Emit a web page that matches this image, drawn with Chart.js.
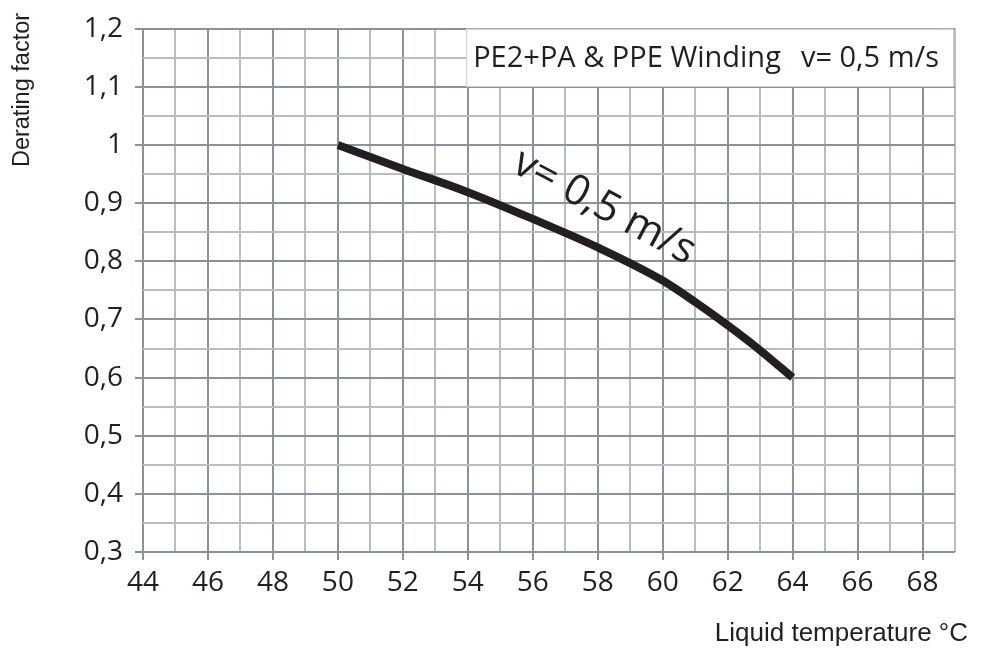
<!DOCTYPE html>
<html>
<head>
<meta charset="utf-8">
<script src="https://cdn.jsdelivr.net/npm/chart.js@4/dist/chart.umd.min.js"></script>
<style>
  html, body { margin: 0; padding: 0; background: #ffffff; }
  #wrap { position: relative; width: 981px; height: 652px; }
</style>
</head>
<body>
<div id="wrap"><canvas id="derating" width="981" height="652"></canvas></div>
<script>
// Derating curve, v = 0,5 m/s
const temperatures = [50, 52, 54, 56, 58, 60, 61, 62, 63, 64];
const deratingFactors = [1.0, 0.959, 0.919, 0.873, 0.824, 0.767, 0.73, 0.69, 0.647, 0.6];

const xMin = 44, xMax = 69;
const yMin = 0.3, yMax = 1.2;

const curveName = 'v= 0,5 m/s';
const boxTitle = 'PE2+PA & PPE Winding';
const xTitle = 'Liquid temperature °C';
const yTitle = 'Derating factor';

const DARK_GRID = '#8b9299';
const LIGHT_GRID = '#b9bdc3';
const INK = '#231f20';
const TICK_FONT = { family: '"Open Sans", sans-serif', size: 28 };

// y tick values come as floats, round to hundredths
function isMajorY(v) { return Math.round(v * 100) % 10 === 0; }
function isMajorX(v) { return Math.round(v) % 2 === 0; }
function fmtComma(v) { return String(Math.round(v * 100) / 100).replace('.', ','); }

// white caption box in the top right corner + axis titles + label on the curve
const annotations = {
  id: 'annotations',
  beforeDatasetsDraw(chart) {
    const { ctx, scales: { x, y } } = chart;
    const left = x.getPixelForValue(53.95), right = x.getPixelForValue(xMax) - 1;
    const top = y.getPixelForValue(yMax), bottom = y.getPixelForValue(1.1);
    ctx.save();
    ctx.fillStyle = '#ffffff';
    ctx.fillRect(left, top, right - left, bottom - top);
    ctx.strokeStyle = '#c9ccd0';
    ctx.lineWidth = 1;
    ctx.strokeRect(left + 0.5, top + 0.5, right - left - 1, bottom - top - 1);
    ctx.fillStyle = INK;
    ctx.font = '29px "Open Sans", sans-serif';
    ctx.textBaseline = 'middle';
    ctx.textAlign = 'left';
    const mid = (top + bottom) / 2 + 1;
    ctx.fillText(boxTitle, left + 7, mid);
    ctx.textAlign = 'right';
    ctx.fillText(curveName, right - 15, mid);
    ctx.restore();
  },
  afterDatasetsDraw(chart) {
    const { ctx, scales: { x, y } } = chart;
    ctx.save();
    ctx.fillStyle = INK;
    // label along the curve
    ctx.translate(x.getPixelForValue(58.2), y.getPixelForValue(0.893));
    ctx.rotate(28 * Math.PI / 180);
    ctx.font = '42px "Open Sans", sans-serif';
    ctx.textAlign = 'center';
    ctx.textBaseline = 'middle';
    ctx.fillText(curveName, 0, 0);
    ctx.restore();

    ctx.save();
    ctx.fillStyle = INK;
    ctx.textBaseline = 'middle';
    ctx.font = '26px "Liberation Sans", Arial, sans-serif';
    ctx.textAlign = 'right';
    ctx.fillText(xTitle, 968, 634);
    ctx.font = '23.5px "Liberation Sans", Arial, sans-serif';
    ctx.translate(23, 90);
    ctx.rotate(-Math.PI / 2);
    ctx.textAlign = 'center';
    ctx.fillText(yTitle, 0, 0);
    ctx.restore();
  }
};

const points = temperatures.map((t, i) => ({ x: t, y: deratingFactors[i] }));

new Chart(document.getElementById('derating'), {
  type: 'line',
  data: {
    datasets: [{
      label: curveName,
      data: points,
      borderColor: INK,
      borderWidth: 8,
      borderCapStyle: 'butt',
      pointRadius: 0,
      cubicInterpolationMode: 'monotone',
      fill: false
    }]
  },
  options: {
    responsive: false,
    animation: false,
    layout: { padding: { left: 0, right: 26, top: 23, bottom: 0 } },
    plugins: { legend: { display: false }, tooltip: { enabled: false } },
    scales: {
      x: {
        type: 'linear',
        min: xMin,
        max: xMax,
        afterFit: (scale) => { scale.height = 100; },
        border: { display: false },
        grid: {
          lineWidth: 2,
          tickLength: 8,
          color: (c) => isMajorX(c.tick.value) ? DARK_GRID : LIGHT_GRID,
          tickColor: (c) => isMajorX(c.tick.value) ? DARK_GRID : 'rgba(0,0,0,0)'
        },
        ticks: {
          stepSize: 1,
          autoSkip: false,
          maxRotation: 0,
          padding: 6,
          color: INK,
          font: TICK_FONT,
          callback: (v) => isMajorX(v) && v < xMax ? String(v) : ''
        }
      },
      y: {
        type: 'linear',
        min: yMin,
        max: yMax,
        afterFit: (scale) => { scale.width = 143; },
        border: { display: false },
        grid: {
          lineWidth: 2,
          tickLength: 8,
          color: (c) => isMajorY(c.tick.value) ? DARK_GRID : LIGHT_GRID,
          tickColor: (c) => isMajorY(c.tick.value) ? DARK_GRID : 'rgba(0,0,0,0)'
        },
        ticks: {
          stepSize: 0.05,
          autoSkip: false,
          padding: 12,
          color: INK,
          font: TICK_FONT,
          callback: (v) => isMajorY(v) ? fmtComma(v) : ''
        }
      }
    }
  },
  plugins: [annotations]
});
</script>
</body>
</html>
